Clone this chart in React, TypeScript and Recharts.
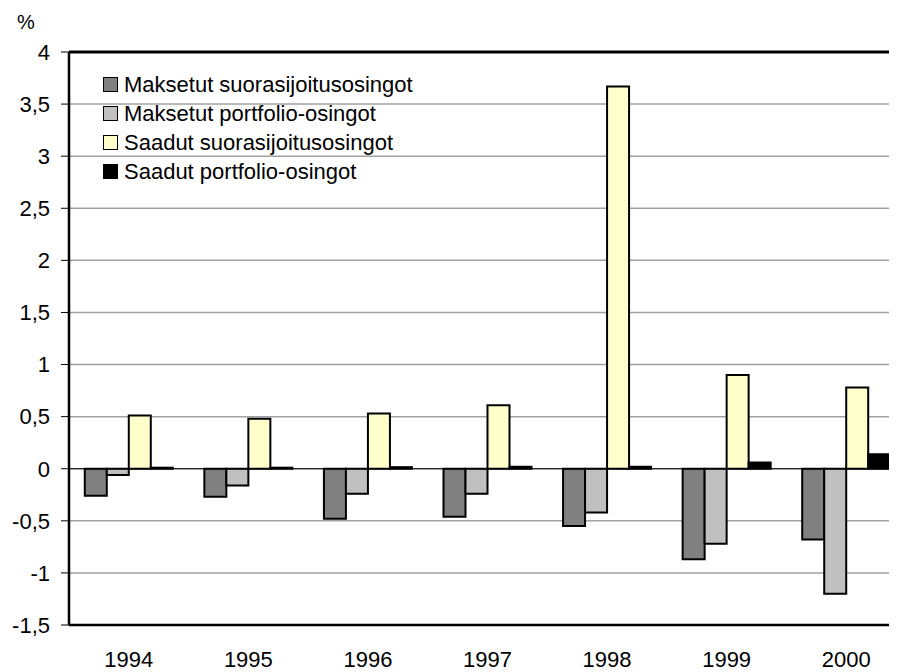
import React from 'react';
import {BarChart, Bar, XAxis, YAxis, CartesianGrid, Legend, ReferenceLine} from 'recharts';

// years on the x axis
const years: string[] = ['1994', '1995', '1996', '1997', '1998', '1999', '2000'];

// the four series, % values
const maksetutSuora: number[] = [-0.26, -0.27, -0.48, -0.46, -0.55, -0.87, -0.68];
const maksetutPortfolio: number[] = [-0.06, -0.16, -0.24, -0.24, -0.42, -0.72, -1.2];
const saadutSuora: number[] = [0.51, 0.48, 0.53, 0.61, 3.67, 0.9, 0.78];
const saadutPortfolio: number[] = [0.01, 0.01, 0.015, 0.02, 0.02, 0.06, 0.14];

const yTicks: number[] = [-1.5, -1, -0.5, 0, 0.5, 1, 1.5, 2, 2.5, 3, 3.5, 4];

const seriesNames: string[] = [
    'Maksetut suorasijoitusosingot',
    'Maksetut portfolio-osingot',
    'Saadut suorasijoitusosingot',
    'Saadut portfolio-osingot'
];
const seriesColors: string[] = ['#808080', '#c0c0c0', '#ffffcc', '#000000'];

const data = years.map((year, i) => ({
    year,
    s0: maksetutSuora[i],
    s1: maksetutPortfolio[i],
    s2: saadutSuora[i],
    s3: saadutPortfolio[i]
}));

const fmt = (v: number) => String(v).replace('.', ',');

function YearTick(props: any) {
    const {x, y, payload} = props;
    return (
        <text x={x} y={y + 42} textAnchor="middle" fontSize={22} fill="#000">
            {payload.value}
        </text>
    );
}

function LegendBox() {
    return (
        <div style={{fontSize: 22, color: '#000', whiteSpace: 'nowrap'}}>
            {seriesNames.map((name, i) => (
                <div key={name} style={{display: 'flex', alignItems: 'center', height: 29}}>
                    <span style={{
                        display: 'inline-block', width: 13, height: 13, background: seriesColors[i],
                        border: '1.5px solid #000', marginRight: 6
                    }} />
                    <span>{name}</span>
                </div>
            ))}
        </div>
    );
}

function App() {
    return (
        <div style={{position: 'relative', width: 889, height: 664, overflow: 'hidden',
            fontFamily: 'Arial, "Liberation Sans", sans-serif'}}>
            <div style={{position: 'absolute', left: 9, top: 3, fontSize: 20}}>%</div>
            <BarChart width={910} height={664} data={data}
                      margin={{top: 44, right: 12, left: 0, bottom: 7}}
                      barCategoryGap="13.2%" barGap={0}>
                <CartesianGrid horizontal={true} vertical={false} stroke="#a0a0a0" strokeWidth={1.5} />
                <XAxis dataKey="year" height={40} tickLine={false} tickSize={0} tickMargin={0}
                       axisLine={false} tick={<YearTick />} interval={0} />
                <YAxis width={61} domain={[-1.5, 4]} ticks={yTicks} tickFormatter={fmt}
                       tickSize={8} tickMargin={11} allowDataOverflow
                       axisLine={{stroke: '#000', strokeWidth: 2.5}}
                       tickLine={{stroke: '#000', strokeWidth: 1}}
                       tick={{fill: '#000', fontSize: 22}} />
                <ReferenceLine y={0} stroke="#000" strokeWidth={1} />
                <ReferenceLine y={4} stroke="#000" strokeWidth={3} />
                <ReferenceLine y={-1.5} stroke="#000" strokeWidth={2.5} />
                <Legend verticalAlign="middle" align="center" layout="vertical" content={<LegendBox />}
                        wrapperStyle={{position: 'absolute', left: 95, top: 62, width: 'auto'}} />
                {seriesNames.map((name, i) => (
                    <Bar key={name} dataKey={'s' + i} name={name} fill={seriesColors[i]}
                         stroke="#000" strokeWidth={2} isAnimationActive={false} />
                ))}
            </BarChart>
        </div>
    );
}

export default App;
